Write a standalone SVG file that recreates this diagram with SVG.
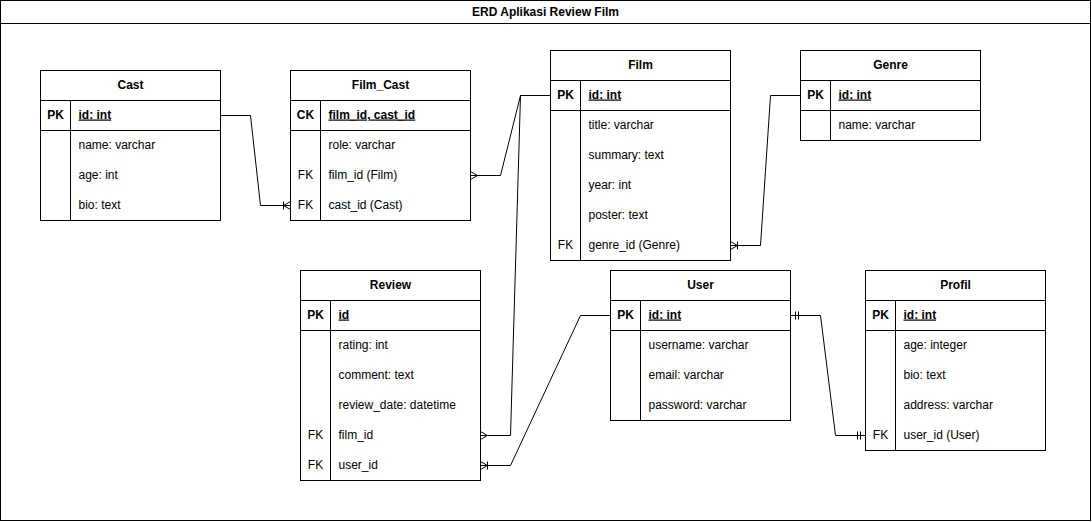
<svg xmlns="http://www.w3.org/2000/svg" width="1092" height="522" viewBox="0 0 1092 522">
<style>
.box{fill:#fff;stroke:#000;stroke-width:1}
.ln{stroke:#000;stroke-width:1;fill:none}
.t{font-family:"Liberation Sans",Arial,Helvetica,sans-serif;font-size:12px;fill:#000}
.h{font-weight:bold;text-anchor:middle}
.k{font-weight:bold;text-anchor:middle}
.fk{text-anchor:middle}
.pk{font-weight:bold;text-decoration:underline}
.c{stroke:#000;stroke-width:1;fill:none}
</style>
<defs>
<marker id="many" markerUnits="userSpaceOnUse" markerWidth="20" markerHeight="20" refX="0" refY="0" viewBox="-10 -10 20 20" orient="auto-start-reverse" overflow="visible">
<path d="M0,-4 L-7,0 L0,4" fill="none" stroke="#000" stroke-width="1"/>
</marker>
<marker id="oneMany" markerUnits="userSpaceOnUse" markerWidth="20" markerHeight="20" refX="0" refY="0" viewBox="-10 -10 20 20" orient="auto-start-reverse" overflow="visible">
<path d="M0,-4 L-7,0 L0,4 M-7,-4 V4" fill="none" stroke="#000" stroke-width="1"/>
</marker>
<marker id="mandOne" markerUnits="userSpaceOnUse" markerWidth="20" markerHeight="20" refX="0" refY="0" viewBox="-10 -10 20 20" orient="auto-start-reverse" overflow="visible">
<path d="M-5,-4 V4 M-8,-4 V4" fill="none" stroke="#000" stroke-width="1"/>
</marker>
</defs>
<g transform="translate(0.5,0.5)">
<g id="frame">
<rect class="box" x="0" y="0" width="1090" height="520"/>
<line class="ln" x1="0" y1="23" x2="1090" y2="23"/>
<text class="t h" x="545" y="15">ERD Aplikasi Review Film</text>
</g>

<g id="connectors">
<path class="c" d="M290,205 H260 L250,115 H220" marker-start="url(#oneMany)"/>
<path class="c" d="M470,175 H500 L520,95 H550" marker-start="url(#many)"/>
<path class="c" d="M480,435 H510 L520,95 H550" marker-start="url(#many)"/>
<path class="c" d="M730,245 H760 L770,95 H800" marker-start="url(#oneMany)"/>
<path class="c" d="M480,465 H510 L580,315 H610" marker-start="url(#oneMany)"/>
<path class="c" d="M790,315 H820 L835,435 H865" marker-start="url(#mandOne)" marker-end="url(#mandOne)"/>
</g>

<g id="cast">
<rect class="box" x="40" y="70" width="180" height="150"/>
<line class="ln" x1="40" y1="100" x2="220" y2="100"/>
<line class="ln" x1="40" y1="130" x2="220" y2="130"/>
<line class="ln" x1="70" y1="100" x2="70" y2="220"/>
<text class="t h" x="130" y="88">Cast</text>
<text class="t k" x="55" y="118">PK</text>
<text class="t pk" x="78" y="118">id: int</text>
<text class="t" x="78" y="148">name: varchar</text>
<text class="t" x="78" y="178">age: int</text>
<text class="t" x="78" y="208">bio: text</text>
</g>

<g id="film_cast">
<rect class="box" x="290" y="70" width="180" height="150"/>
<line class="ln" x1="290" y1="100" x2="470" y2="100"/>
<line class="ln" x1="290" y1="130" x2="470" y2="130"/>
<line class="ln" x1="320" y1="100" x2="320" y2="220"/>
<text class="t h" x="380" y="88">Film_Cast</text>
<text class="t k" x="305" y="118">CK</text>
<text class="t pk" x="328" y="118">film_id, cast_id</text>
<text class="t" x="328" y="148">role: varchar</text>
<text class="t fk" x="305" y="178">FK</text>
<text class="t" x="328" y="178">film_id (Film)</text>
<text class="t fk" x="305" y="208">FK</text>
<text class="t" x="328" y="208">cast_id (Cast)</text>
</g>

<g id="film">
<rect class="box" x="550" y="50" width="180" height="210"/>
<line class="ln" x1="550" y1="80" x2="730" y2="80"/>
<line class="ln" x1="550" y1="110" x2="730" y2="110"/>
<line class="ln" x1="580" y1="80" x2="580" y2="260"/>
<text class="t h" x="640" y="68">Film</text>
<text class="t k" x="565" y="98">PK</text>
<text class="t pk" x="588" y="98">id: int</text>
<text class="t" x="588" y="128">title: varchar</text>
<text class="t" x="588" y="158">summary: text</text>
<text class="t" x="588" y="188">year: int</text>
<text class="t" x="588" y="218">poster: text</text>
<text class="t fk" x="565" y="248">FK</text>
<text class="t" x="588" y="248">genre_id (Genre)</text>
</g>

<g id="genre">
<rect class="box" x="800" y="50" width="180" height="90"/>
<line class="ln" x1="800" y1="80" x2="980" y2="80"/>
<line class="ln" x1="800" y1="110" x2="980" y2="110"/>
<line class="ln" x1="830" y1="80" x2="830" y2="140"/>
<text class="t h" x="890" y="68">Genre</text>
<text class="t k" x="815" y="98">PK</text>
<text class="t pk" x="838" y="98">id: int</text>
<text class="t" x="838" y="128">name: varchar</text>
</g>

<g id="review">
<rect class="box" x="300" y="270" width="180" height="210"/>
<line class="ln" x1="300" y1="300" x2="480" y2="300"/>
<line class="ln" x1="300" y1="330" x2="480" y2="330"/>
<line class="ln" x1="330" y1="300" x2="330" y2="480"/>
<text class="t h" x="390" y="288">Review</text>
<text class="t k" x="315" y="318">PK</text>
<text class="t pk" x="338" y="318">id</text>
<text class="t" x="338" y="348">rating: int</text>
<text class="t" x="338" y="378">comment: text</text>
<text class="t" x="338" y="408">review_date: datetime</text>
<text class="t fk" x="315" y="438">FK</text>
<text class="t" x="338" y="438">film_id</text>
<text class="t fk" x="315" y="468">FK</text>
<text class="t" x="338" y="468">user_id</text>
</g>

<g id="user">
<rect class="box" x="610" y="270" width="180" height="150"/>
<line class="ln" x1="610" y1="300" x2="790" y2="300"/>
<line class="ln" x1="610" y1="330" x2="790" y2="330"/>
<line class="ln" x1="640" y1="300" x2="640" y2="420"/>
<text class="t h" x="700" y="288">User</text>
<text class="t k" x="625" y="318">PK</text>
<text class="t pk" x="648" y="318">id: int</text>
<text class="t" x="648" y="348">username: varchar</text>
<text class="t" x="648" y="378">email: varchar</text>
<text class="t" x="648" y="408">password: varchar</text>
</g>

<g id="profil">
<rect class="box" x="865" y="270" width="180" height="180"/>
<line class="ln" x1="865" y1="300" x2="1045" y2="300"/>
<line class="ln" x1="865" y1="330" x2="1045" y2="330"/>
<line class="ln" x1="895" y1="300" x2="895" y2="450"/>
<text class="t h" x="955" y="288">Profil</text>
<text class="t k" x="880" y="318">PK</text>
<text class="t pk" x="903" y="318">id: int</text>
<text class="t" x="903" y="348">age: integer</text>
<text class="t" x="903" y="378">bio: text</text>
<text class="t" x="903" y="408">address: varchar</text>
<text class="t fk" x="880" y="438">FK</text>
<text class="t" x="903" y="438">user_id (User)</text>
</g>
</g>
</svg>
